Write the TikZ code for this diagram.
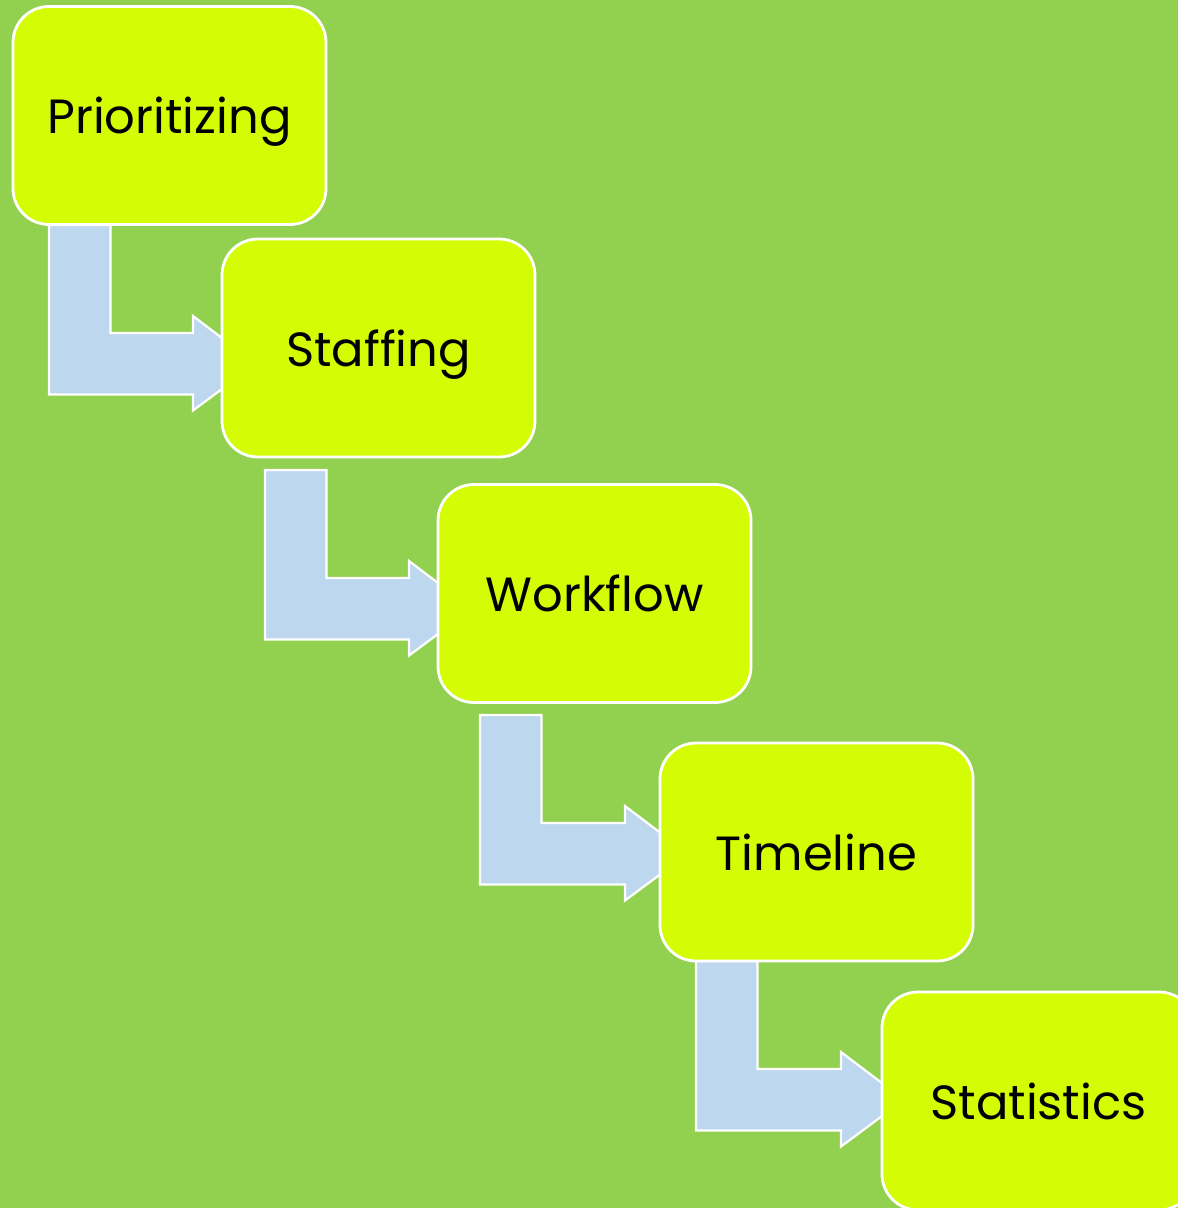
\documentclass[tikz,border=0pt]{standalone}
\usepackage{fontspec}
\setmainfont{Poppins}
\definecolor{bggreen}{HTML}{92D050}
\definecolor{boxfill}{HTML}{D4FC04}
\definecolor{arrowblue}{HTML}{BDD7EE}
\tikzset{
  stepbox/.style={draw=white, line width=2.8pt, fill=boxfill, rounded corners=36pt,
    minimum width=313pt, minimum height=218pt, inner sep=0pt, text=black,
    text height=36pt, text depth=0pt,
    font=\fontsize{48}{56}\selectfont},
  bentarrow/.style={draw=white, line width=2.2pt, fill=arrowblue, line join=miter}
}
% #1 = left x, #2 = top y, #3 = bar top y, #4 = head base x
\newcommand{\mybentarrow}[4]{%
  \draw[bentarrow] (#1,#2) -- ({#1+61.5},#2) -- ({#1+61.5},#3) -- (#4,#3) -- (#4,{#3-17})
    -- ({#4+63},{#3+30.75}) -- (#4,{#3+61.5+16}) -- (#4,{#3+61.5}) -- (#1,{#3+61.5}) -- cycle;}
\begin{document}
\begin{tikzpicture}[x=1pt,y=-1pt]
\useasboundingbox (0,0) rectangle (1178,1208);
\clip (0,0) rectangle (1178,1208);
\fill[bggreen] (0,0) rectangle (1178,1208);
% connectors (bent arrows), drawn beneath the boxes
\mybentarrow{49}{225}{333}{193}
\mybentarrow{265}{470}{578}{409}
\mybentarrow{480}{715}{823}{625}
\mybentarrow{696}{961}{1069}{841}
% boxes
\node[stepbox] (b1) at (169.5,115.5) {Prioritizing};
\node[stepbox] (b2) at (378.5,348) {Staffing};
\node[stepbox] (b3) at (594.5,593.5) {Workflow};
\node[stepbox] (b4) at (816.5,852) {Timeline};
\node[stepbox] (b5) at (1038.5,1101) {Statistics};
\end{tikzpicture}
\end{document}
